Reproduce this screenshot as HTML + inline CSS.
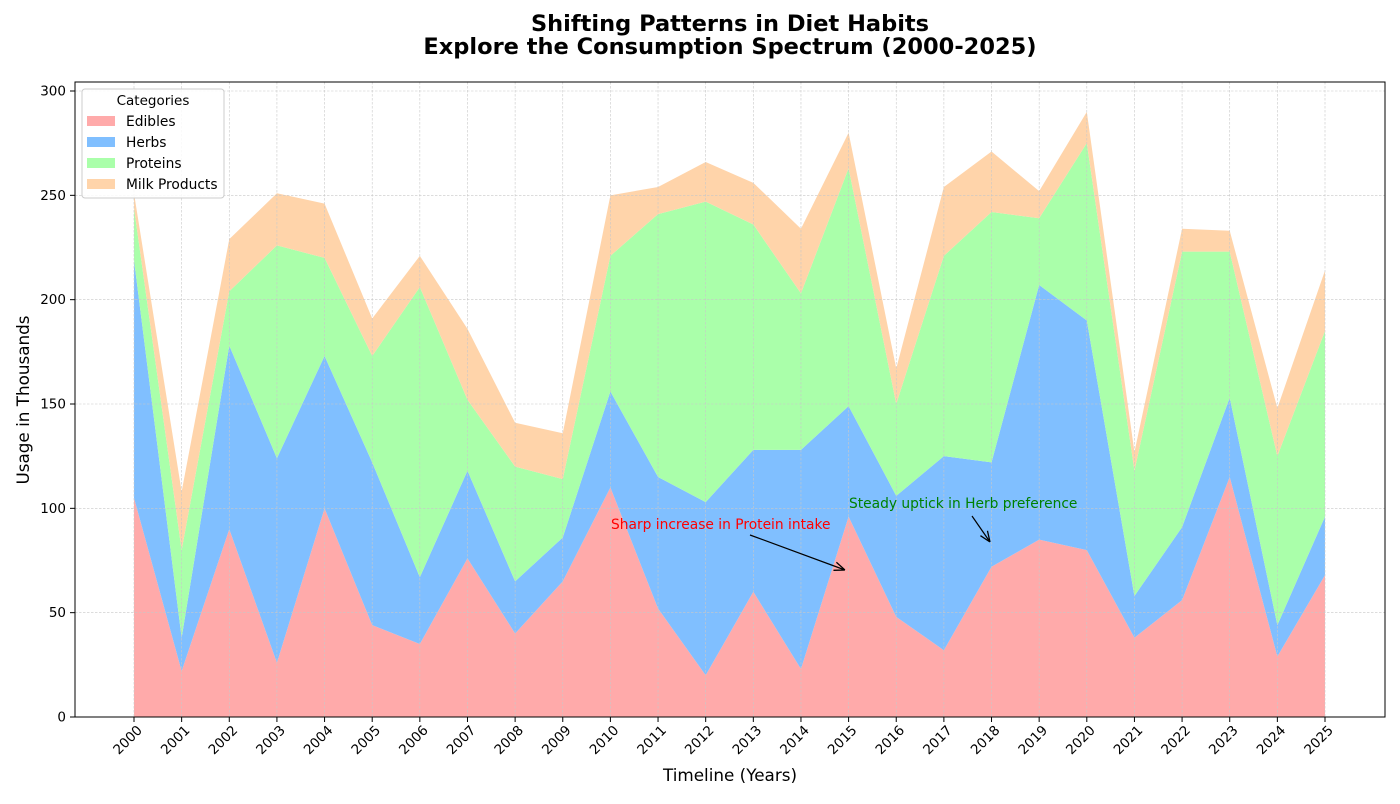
<!DOCTYPE html>
<html><head><meta charset="utf-8"><style>
body{margin:0;background:#fff;font-family:"DejaVu Sans",sans-serif;}
</style></head><body>
<svg id="chart" width="1400" height="800" xmlns="http://www.w3.org/2000/svg" font-family="DejaVu Sans, sans-serif">
<defs><marker id="ah" viewBox="0 0 10 10" refX="10" refY="5" markerWidth="9" markerHeight="9" orient="auto-start-reverse"><path d="M0,1 L10,5 L0,9" fill="none" stroke="#000" stroke-width="1.2"/></marker></defs>
<text x="730" y="31" text-anchor="middle" font-size="22.5" font-weight="bold">Shifting Patterns in Diet Habits</text>
<text x="730" y="54" text-anchor="middle" font-size="22.5" font-weight="bold">Explore the Consumption Spectrum (2000-2025)</text>
<g id="areas"></g><g id="grid"></g><g id="ticks"></g>
<rect x="75" y="82" width="1310" height="635" fill="none" stroke="#000" stroke-width="1"/>
<text x="730" y="781" text-anchor="middle" font-size="16.8">Timeline (Years)</text>
<text transform="translate(29,400) rotate(-90)" text-anchor="middle" font-size="16.8">Usage in Thousands</text>
<g>
<text x="611" y="529" font-size="13.8" fill="red">Sharp increase in Protein intake</text>
<line x1="750" y1="535" x2="845" y2="570" stroke="#000" stroke-width="1.2" marker-end="url(#ah)"/></g>
<g>
<text x="849" y="508" font-size="13.8" fill="green">Steady uptick in Herb preference</text>
<line x1="972" y1="516" x2="990" y2="542" stroke="#000" stroke-width="1.2" marker-end="url(#ah)"/></g>
<g>
<rect x="82" y="89" width="142" height="109" fill="#fff" fill-opacity="0.85" stroke="#ccc" rx="3"/>
<text x="153" y="105" text-anchor="middle" font-size="13.5">Categories</text>
<g id="legend-items"></g></g>
</svg>
<script>
const years=[2000,2001,2002,2003,2004,2005,2006,2007,2008,2009,2010,2011,2012,2013,2014,2015,2016,2017,2018,2019,2020,2021,2022,2023,2024,2025];
const edibles=[105,22,90,26,100,44,35,76,40,65,110,52,20,60,23,96,48,32,72,85,80,38,56,115,29,68];
const herbs=[114,16,88,98,73,78,32,42,25,21,46,63,83,68,105,53,58,93,50,122,110,20,35,38,15,28];
const proteins=[25,42,26,102,47,51,139,34,55,28,65,126,144,108,75,114,44,96,120,32,85,60,132,70,81,89];
const milk=[7,28,25,25,26,18,15,34,21,22,29,13,19,20,31,17,17,33,29,13,15,9,11,10,23,29];
const seriesNames=["Edibles","Herbs","Proteins","Milk Products"];
const yTicks=[0,50,100,150,200,250,300];
const colors=["#ffaaaa","#80bfff","#aaffaa","#ffd4aa"];
const NS="http://www.w3.org/2000/svg";
const X=y=>134+(y-2000)*(1325-134)/25;
const Y=v=>717-v*(717-91)/300;
function mk(t,a,p){const e=document.createElementNS(NS,t);for(const k in a)e.setAttribute(k,a[k]);p.appendChild(e);return e;}
const all=[edibles,herbs,proteins,milk];
let base=years.map(()=>0);
const areas=document.getElementById('areas');
all.forEach((s,i)=>{
  const top=base.map((b,j)=>b+s[j]);
  let d=years.map((y,j)=>(j?'L':'M')+X(y)+','+Y(top[j])).join(' ');
  for(let j=years.length-1;j>=0;j--)d+=' L'+X(years[j])+','+Y(base[j]);
  const p=mk('path',{d:d+'Z',fill:colors[i]},areas);
  
  
  base=top;
});
const grid=document.getElementById('grid'),ticks=document.getElementById('ticks');
years.forEach(y=>{
  mk('line',{x1:X(y),x2:X(y),y1:82,y2:717,stroke:'#c8c8c8','stroke-width':0.6,'stroke-dasharray':'2.5,1.5'},grid);
  mk('line',{x1:X(y),x2:X(y),y1:717,y2:722,stroke:'#000'},ticks);
  const tx=X(y)+9, ty=731;
  const t=mk('text',{x:tx,y:ty,'font-size':13.5,'text-anchor':'end',transform:`rotate(-45 ${tx} ${ty})`},ticks);
  
  
  t.textContent=y;
});
yTicks.forEach(v=>{
  mk('line',{x1:75,x2:1385,y1:Y(v),y2:Y(v),stroke:'#c8c8c8','stroke-width':0.6,'stroke-dasharray':'2.5,1.5'},grid);
  mk('line',{x1:70,x2:75,y1:Y(v),y2:Y(v),stroke:'#000'},ticks);
  const t=mk('text',{x:66,y:Y(v)+4.5,'font-size':13.5,'text-anchor':'end'},ticks);
  
  
  t.textContent=v;
});
const li=document.getElementById('legend-items');
seriesNames.forEach((n,i)=>{
  const g=mk('g',{},li);
  
  
  mk('rect',{x:87,y:116+i*21,width:28,height:10,fill:colors[i]},g);
  const t=mk('text',{x:126,y:126+i*21,'font-size':13.8},g);t.textContent=n;
});
</script>
</body></html>
